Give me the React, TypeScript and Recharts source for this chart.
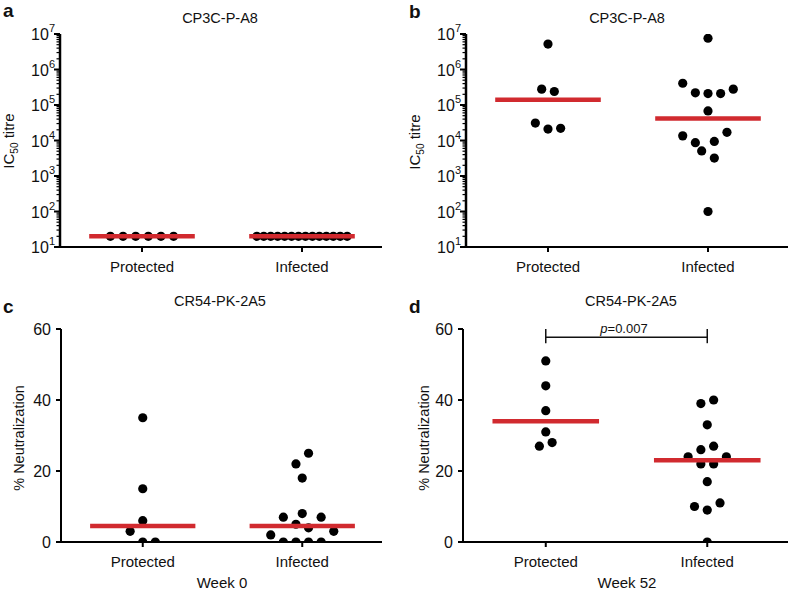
import { ScatterChart, Scatter, XAxis, YAxis, ReferenceLine } from 'recharts'

const FONT = '"Liberation Sans", Arial, Helvetica, sans-serif'
const RED = '#d12a2f'

const GROUPS = ['Protected', 'Infected']

// a: CP3C-P-A8, week 0 (all at the assay floor)
const A_PROT = [20, 20, 20, 20, 20, 20]
const A_PROT_SLOT = [-2.5, -1.5, -0.5, 0.5, 1.5, 2.5]
const A_INF = [20, 20, 20, 20, 20, 20, 20, 20, 20, 20, 20, 20, 20, 20]
const A_INF_SLOT = [-3.575, -3.025, -2.475, -1.925, -1.375, -0.825, -0.275, 0.275, 0.825, 1.375, 1.925, 2.475, 3.025, 3.575]
const A_MEDIAN = [20, 20]

// b: CP3C-P-A8, week 52
const B_PROT = [5.2e6, 2.8e5, 2.4e5, 3.1e4, 2.1e4, 2.2e4]
const B_PROT_SLOT = [0, -0.5, 0.5, -1, 0, 1]
const B_INF = [7.6e6, 4.1e5, 2.2e5, 2.1e5, 2.1e5, 2.8e5, 6.8e4, 1.35e4, 8.7e3, 5.1e3, 9.4e3, 1.7e4, 3.2e3, 100]
const B_INF_SLOT = [0, -2, -1, 0, 1, 2, 0, -2, -1, -0.5, 0.5, 1.5, 0.5, 0]
const B_MEDIAN = [1.4e5, 4.2e4]

// c: CR54-PK-2A5, week 0
const C_PROT = [35, 15, 6, 3, 0, 0]
const C_PROT_SLOT = [0, 0, 0, -1, 0, 1]
const C_INF = [25, 22, 18, 8, 7, 7, 5, 4, 3, 2, 0, 0, 0, 0]
const C_INF_SLOT = [0.5, -0.5, 0, 0, -1.5, 1.5, -0.5, 0.5, 2.5, -2.5, -1.5, -0.5, 0.5, 1.5]
const C_MEDIAN = [4.5, 4.5]

// d: CR54-PK-2A5, week 52
const D_PROT = [51, 44, 37, 31, 27, 28]
const D_PROT_SLOT = [0, 0, 0, 0, -0.5, 0.5]
const D_INF = [40, 39, 33, 27, 26, 24, 24, 22, 22, 17, 11, 10, 9, 0]
const D_INF_SLOT = [0.5, -0.5, 0, 0.5, -0.5, -1.5, 1.5, -0.5, 0.5, 0, 1, -1, 0, 0]
const D_MEDIAN = [34, 23]

const LOG_TICKS: number[] = []
for (let d = 1; d <= 6; d++) for (let k = 1; k <= 9; k++) LOG_TICKS.push(k * Math.pow(10, d))
LOG_TICKS.push(1e7)
const LIN_TICKS = [0, 20, 40, 60]

const SLOT_W = 0.079
const MEDIAN_HALF = 0.33
const X_DOMAIN = [0.4875, 2.5]

const toPoints = (prot: number[], protSlot: number[], inf: number[], infSlot: number[]) => [
  ...prot.map((y, i) => ({ x: 1 + protSlot[i] * SLOT_W, y })),
  ...inf.map((y, i) => ({ x: 2 + infSlot[i] * SLOT_W, y })),
]
const medianSeg = (g: number, m: number) => [
  { x: g + 1 - MEDIAN_HALF, y: m },
  { x: g + 1 + MEDIAN_HALF, y: m },
]

const Dot = (p: any) => <circle cx={p.cx} cy={p.cy} r={4.6} fill="#000" />
const NoDot = () => <g />

const XTick = ({ x, y, payload }: any) => (
  <g>
    <line x1={x} x2={x} y1={y} y2={y + 5} stroke="#000" strokeWidth={2} />
    <text x={x} y={y + 25} textAnchor="middle" fontSize={15} fontFamily={FONT} fill="#111">
      {GROUPS[payload.value - 1]}
    </text>
  </g>
)

const LogTick = ({ x, y, payload }: any) => {
  const lg = Math.log10(payload.value)
  const exp = Math.round(lg)
  const major = Math.abs(lg - exp) < 1e-6
  return (
    <g>
      <line x1={x - (major ? 6 : 3.5)} x2={x} y1={y} y2={y} stroke="#000" strokeWidth={major ? 2 : 1.2} />
      {major && (
        <text x={x - 5} y={y + 6} textAnchor="end" fontSize={16} fontFamily={FONT} fill="#111">
          10<tspan dy={-8} fontSize={11}>{exp}</tspan>
        </text>
      )}
    </g>
  )
}

const LinTick = ({ x, y, payload }: any) => (
  <g>
    <line x1={x - 5} x2={x} y1={y} y2={y} stroke="#000" strokeWidth={2} />
    <text x={x - 10} y={y + 6} textAnchor="end" fontSize={16} fontFamily={FONT} fill="#111">
      {payload.value}
    </text>
  </g>
)

interface PanelProps {
  left: number
  top: number
  height: number
  yWidth: number
  right: number
  marginTop: number
  xHeight: number
  log?: boolean
  points: { x: number; y: number }[]
  medians: number[]
  children?: any
}

function Panel({ left, top, height, yWidth, right, marginTop, xHeight, log, points, medians, children }: PanelProps) {
  return (
    <div style={{ position: 'absolute', left, top }}>
      <ScatterChart width={394} height={height} margin={{ top: marginTop, right, bottom: 0, left: 0 }}>
        <XAxis
          type="number"
          dataKey="x"
          domain={X_DOMAIN}
          ticks={[1, 2]}
          height={xHeight}
          tickSize={0}
          tickMargin={0}
          tick={<XTick />}
          axisLine={{ stroke: '#000', strokeWidth: 2 }}
          allowDataOverflow
        />
        {log ? (
          <YAxis
            type="number"
            dataKey="y"
            scale="log"
            domain={[10, 1e7]}
            ticks={LOG_TICKS}
            interval={0}
            width={yWidth}
            tickSize={0}
            tickMargin={0}
            tick={<LogTick />}
            axisLine={{ stroke: '#000', strokeWidth: 2.5 }}
            allowDataOverflow
          />
        ) : (
          <YAxis
            type="number"
            dataKey="y"
            domain={[0, 60]}
            ticks={LIN_TICKS}
            interval={0}
            width={yWidth}
            tickSize={0}
            tickMargin={0}
            tick={<LinTick />}
            axisLine={{ stroke: '#000', strokeWidth: 2 }}
            allowDataOverflow
          />
        )}
        {children}
        <Scatter data={points} shape={<Dot />} isAnimationActive={false} />
        {medians.map((m, g) => (
          <Scatter
            key={g}
            data={medianSeg(g, m)}
            line={{ stroke: RED, strokeWidth: 4.5 }}
            shape={<NoDot />}
            isAnimationActive={false}
          />
        ))}
      </ScatterChart>
    </div>
  )
}

export default function App() {
  return (
    <div style={{ position: 'absolute', left: 0, top: 0, width: 788, height: 591, background: '#fff', overflow: 'hidden' }}>
      <Panel left={0} top={0} height={290} yWidth={60} right={12} marginTop={34} xHeight={43} log
        points={toPoints(A_PROT, A_PROT_SLOT, A_INF, A_INF_SLOT)} medians={A_MEDIAN} />
      <Panel left={394} top={0} height={290} yWidth={72} right={0} marginTop={34} xHeight={43} log
        points={toPoints(B_PROT, B_PROT_SLOT, B_INF, B_INF_SLOT)} medians={B_MEDIAN} />
      <Panel left={0} top={290} height={301} yWidth={61} right={12} marginTop={39} xHeight={49}
        points={toPoints(C_PROT, C_PROT_SLOT, C_INF, C_INF_SLOT)} medians={C_MEDIAN} />
      <Panel left={394} top={290} height={301} yWidth={69} right={0} marginTop={39} xHeight={49}
        points={toPoints(D_PROT, D_PROT_SLOT, D_INF, D_INF_SLOT)} medians={D_MEDIAN}>
        <ReferenceLine segment={[{ x: 1, y: 57.7 }, { x: 2, y: 57.7 }]} stroke="#111" strokeWidth={1.5} />
        <ReferenceLine segment={[{ x: 1, y: 56 }, { x: 1, y: 60 }]} stroke="#111" strokeWidth={1.5} />
        <ReferenceLine segment={[{ x: 2, y: 56 }, { x: 2, y: 60 }]} stroke="#111" strokeWidth={1.5} />
      </Panel>

      <svg width={788} height={591} style={{ position: 'absolute', left: 0, top: 0, pointerEvents: 'none' }} fontFamily={FONT} fill="#111">
        <text x={3} y={17} fontSize={19} fontWeight="bold">a</text>
        <text x={409} y={18} fontSize={19} fontWeight="bold">b</text>
        <text x={3} y={313} fontSize={19} fontWeight="bold">c</text>
        <text x={409} y={313} fontSize={19} fontWeight="bold">d</text>

        <text x={220} y={23} fontSize={14.5} textAnchor="middle">CP3C-P-A8</text>
        <text x={627} y={23} fontSize={14.5} textAnchor="middle">CP3C-P-A8</text>
        <text x={220} y={306} fontSize={14.5} textAnchor="middle">CR54-PK-2A5</text>
        <text x={631} y={306} fontSize={14.5} textAnchor="middle">CR54-PK-2A5</text>

        <text transform="translate(14,141) rotate(-90)" fontSize={15} textAnchor="middle">
          IC<tspan dy={4} fontSize={10}>50</tspan><tspan dy={-4}> titre</tspan>
        </text>
        <text transform="translate(420,142) rotate(-90)" fontSize={15} textAnchor="middle">
          IC<tspan dy={4} fontSize={10}>50</tspan><tspan dy={-4}> titre</tspan>
        </text>
        <text transform="translate(24,438) rotate(-90)" fontSize={14.5} textAnchor="middle">% Neutralization</text>
        <text transform="translate(429,438) rotate(-90)" fontSize={14.5} textAnchor="middle">% Neutralization</text>

        <text x={222} y={588} fontSize={15} textAnchor="middle">Week 0</text>
        <text x={627} y={588} fontSize={15} textAnchor="middle">Week 52</text>

        <text x={624} y={333} fontSize={13} textAnchor="middle">
          <tspan fontStyle="italic">p</tspan>=0.007
        </text>
      </svg>
    </div>
  )
}
